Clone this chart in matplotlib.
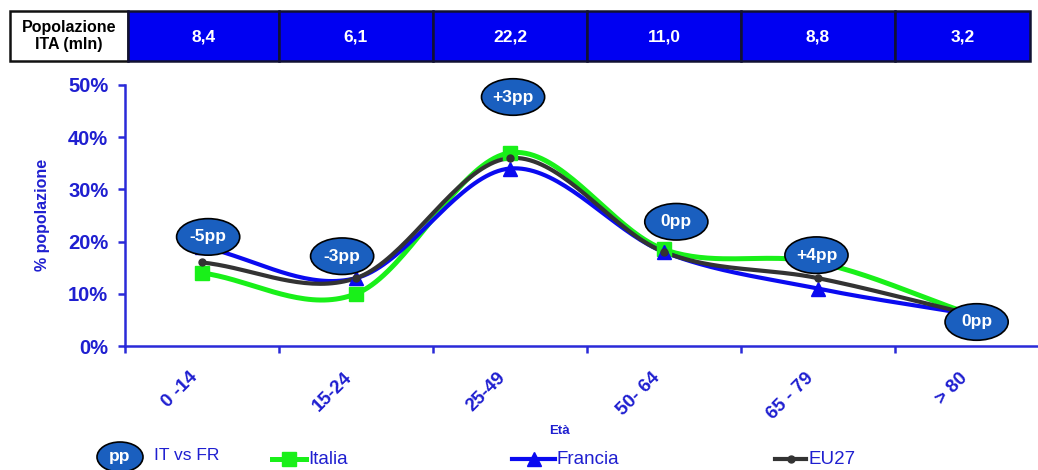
import numpy as np
import matplotlib
matplotlib.use("Agg")
import matplotlib.pyplot as plt
from matplotlib.patches import Rectangle, Ellipse
from matplotlib import font_manager

# ---------------- data ----------------
categories = ["0 -14", "15-24", "25-49", "50- 64", "65 - 79", "> 80"]
pop_ita = ["8,4", "6,1", "22,2", "11,0", "8,8", "3,2"]
italia = [14, 10, 37, 18.5, 16, 6]
francia = [19, 13, 34, 18, 11, 6]
eu27 = [16, 13, 36, 18, 13, 6]
pp_labels = ["-5pp", "-3pp", "+3pp", "0pp", "+4pp", "0pp"]
pp_pos_y = [20.9, 17.2, 47.7, 23.8, 17.4, 4.6]
pp_off_x = [0.04, -0.09, 0.02, 0.08, -0.01, 0.03]
yticks = [0, 10, 20, 30, 40, 50]

# ---------------- fonts ----------------
names = {f.name for f in font_manager.fontManager.ttflist}
NARROW = "Liberation Sans Narrow" if "Liberation Sans Narrow" in names else "Liberation Sans"
BOLD = "Liberation Sans" if "Liberation Sans" in names else "DejaVu Sans"

BLUE_TXT = "#1f1fd0"
AX_BLUE = "#2a2ad8"
PP_FILL = "#1a5fbf"

W, H = 1038, 470
fig = plt.figure(figsize=(W / 100, H / 100), dpi=100)

ax_l, ax_r, ax_b, ax_t = 125, 1038, 346, 85
ax = fig.add_axes([ax_l / W, 1 - ax_b / H, (ax_r - ax_l) / W, (ax_b - ax_t) / H])
xr = -0.5 + (ax_r - ax_l) / 154.0
ax.set_xlim(-0.5, xr)
ax.set_ylim(0, 50)


def smooth(xs, ys, n=40):
    xs = np.asarray(xs, float)
    ys = np.asarray(ys, float)
    px = np.concatenate([[2 * xs[0] - xs[1]], xs, [2 * xs[-1] - xs[-2]]])
    py = np.concatenate([[2 * ys[0] - ys[1]], ys, [2 * ys[-1] - ys[-2]]])
    ox, oy = [], []
    t = np.linspace(0, 1, n)
    for i in range(1, len(px) - 2):
        p0, p1, p2, p3 = px[i - 1], px[i], px[i + 1], px[i + 2]
        q0, q1, q2, q3 = py[i - 1], py[i], py[i + 1], py[i + 2]
        bx = [p1, p1 + (p2 - p0) / 6, p2 - (p3 - p1) / 6, p2]
        by = [q1, q1 + (q2 - q0) / 6, q2 - (q3 - q1) / 6, q2]
        cx = ((1 - t) ** 3) * bx[0] + 3 * ((1 - t) ** 2) * t * bx[1] + 3 * (1 - t) * t ** 2 * bx[2] + t ** 3 * bx[3]
        cy = ((1 - t) ** 3) * by[0] + 3 * ((1 - t) ** 2) * t * by[1] + 3 * (1 - t) * t ** 2 * by[2] + t ** 3 * by[3]
        ox.extend(cx)
        oy.extend(cy)
    return np.array(ox), np.array(oy)


x = np.arange(len(categories))
series = [
    (italia, "#19f019", "s", 9.5, 3.6),
    (francia, "#0a0af0", "^", 9.5, 3.0),
    (eu27, "#333333", "o", 5, 3.0),
]
for vals, col, mk, ms, lw in series:
    sx, sy = smooth(x, vals)
    ax.plot(sx, sy, color=col, lw=lw, solid_capstyle="round", zorder=3)
    ax.plot(x, vals, ls="none", marker=mk, ms=ms, color=col, mec=col, zorder=4)

# pp ellipses
for i, (lab, py, dx) in enumerate(zip(pp_labels, pp_pos_y, pp_off_x)):
    e = Ellipse((i + dx, py), 0.41, 7.0, facecolor=PP_FILL, edgecolor="black", lw=1.2, zorder=6,
                clip_on=False)
    ax.add_patch(e)
    ax.text(i + dx, py, lab, color="white", fontsize=12.5, fontweight="bold", family=NARROW,
            ha="center", va="center", zorder=7, clip_on=False)

# axes styling
for s in ["top", "right"]:
    ax.spines[s].set_visible(False)
for s in ["left", "bottom"]:
    ax.spines[s].set_color(AX_BLUE)
    ax.spines[s].set_linewidth(1.8)
ax.set_yticks(yticks)
ax.set_yticklabels([f"{v}%" for v in yticks])
ax.tick_params(axis="y", colors=AX_BLUE, length=5, width=1.8, labelsize=14.5, pad=7)
for t in ax.get_yticklabels():
    t.set_fontweight("bold")
    t.set_family(BOLD)
    t.set_color(BLUE_TXT)
ax.set_xticks(np.arange(-0.5, 5.0, 1.0))
ax.set_xticklabels([])
ax.tick_params(axis="x", colors=AX_BLUE, length=5, width=1.8)
for i, c in enumerate(categories):
    ax.annotate(c, xy=(i, 0), xycoords="data", xytext=(-5, -21), textcoords="offset points",
                rotation=45, rotation_mode="anchor", ha="right", va="center",
                fontsize=13.5, fontweight="bold", family=BOLD, color=BLUE_TXT, annotation_clip=False)

fig.text(42 / W, 1 - 215 / H, "% popolazione", rotation=90, ha="center", va="center",
         fontsize=11.5, fontweight="bold", family=BOLD, color=BLUE_TXT)
fig.text(560 / W, 1 - 431 / H, "Età", ha="center", va="center",
         fontsize=9.5, fontweight="bold", family=BOLD, color=BLUE_TXT)

# overlay axes in pixel coords for table and legend
ov = fig.add_axes([0, 0, 1, 1], zorder=-1)
ov.set_xlim(0, W)
ov.set_ylim(H, 0)
ov.axis("off")
ov.patch.set_alpha(0)

ty0, ty1 = 11, 61
bounds = [ax_l + 154 * j for j in range(7)]
bounds[0] = 128
bounds[-1] = 1030
ov.add_patch(Rectangle((10, ty0), bounds[0] - 10, ty1 - ty0, facecolor="white", edgecolor="#111111", lw=1.8))
ov.text((10 + bounds[0]) / 2, (ty0 + ty1) / 2, "Popolazione\nITA (mln)", ha="center", va="center",
        fontsize=11.5, fontweight="bold", family=BOLD, color="black", linespacing=1.1)
for k, lab in enumerate(pop_ita):
    x0, x1 = bounds[k], bounds[k + 1]
    ov.add_patch(Rectangle((x0, ty0), x1 - x0, ty1 - ty0, facecolor="#0000f2", edgecolor="#111133", lw=1.8))
    ov.text((x0 + x1) / 2, (ty0 + ty1) / 2 + 1, lab, ha="center", va="center", fontsize=12.5,
            fontweight="bold", family=BOLD, color="white")

# legend
ly = 459
ov.add_patch(Ellipse((120, ly - 2), 46, 30, facecolor=PP_FILL, edgecolor="black", lw=1.2))
ov.text(120, ly - 2, "pp", color="white", fontsize=12.5, fontweight="bold", family=NARROW,
        ha="center", va="center")
ov.text(154, ly - 4, "IT vs FR", color=BLUE_TXT, fontsize=12.5, family=NARROW, ha="left", va="center")
leg = [("Italia", "#19f019", "s", 9.5, 3.6, 272, 306),
       ("Francia", "#0a0af0", "^", 9.5, 3.0, 512, 555),
       ("EU27", "#333333", "o", 5, 3.0, 775, 806)]
for lab, col, mk, ms, lw, x0, x1 in leg:
    ov.plot([x0, x1], [ly, ly], color=col, lw=lw)
    ov.plot([(x0 + x1) / 2], [ly], marker=mk, ms=ms, color=col, ls="none")
    ov.text(x1 + 2, ly + 1, lab, color=BLUE_TXT, fontsize=13.5, family=NARROW, ha="left", va="center")

fig.savefig("out.png", dpi=100)
